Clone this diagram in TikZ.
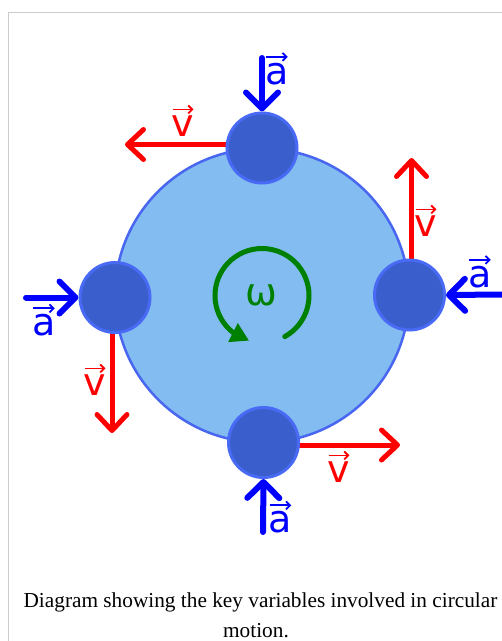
\documentclass[tikz,border=0pt]{standalone}
\usepackage{fontspec}
\setmainfont{Liberation Serif}
\newfontfamily\dvfont{DejaVu Sans}
\usetikzlibrary{arrows.meta,bending,calc}
\definecolor{bigfill}{RGB}{130,188,240}
\definecolor{bigline}{RGB}{72,102,240}
\definecolor{ballfill}{RGB}{58,95,205}
\definecolor{ballline}{RGB}{72,106,245}
\definecolor{framegray}{RGB}{204,204,204}
\definecolor{omegagreen}{RGB}{0,128,0}
\pgfdeclarelayer{bglayer}
\pgfdeclarelayer{midlayer}
\pgfsetlayers{bglayer,midlayer,main}
\begin{document}
\begin{tikzpicture}[x=1pt,y=-1pt,
  bigdisc/.style={circle,fill=bigfill,draw=bigline,line width=2.5pt,minimum size=294pt,inner sep=0},
  ball/.style={circle,fill=ballfill,draw=ballline,line width=3pt,minimum size=70pt,inner sep=0},
  vel/.style={draw=red,line width=5pt,line cap=round,-{Straight Barb[round,length=16pt,width=30pt]}},
  acc/.style={draw=blue,line width=6pt,line cap=round,-{Straight Barb[round,length=16pt,width=32pt]}},
  vlab/.style={font=\dvfont\fontsize{38}{38}\selectfont,inner sep=0},
  vecarr/.style={line width=1.8pt,-{Straight Barb[length=4pt,width=8pt]}},
  omegaarc/.style={draw=omegagreen,line width=5pt,line cap=round,-{Triangle[length=18pt,width=20pt,flex]}},
  framestyle/.style={draw=framegray,line width=1pt},
  captext/.style={font=\fontsize{21.3}{21.3}\selectfont,inner sep=0,anchor=base}
]
\useasboundingbox (0,0) rectangle (502,641);
% frame
\draw[framestyle] (8.5,641) -- (8.5,12.5) -- (502,12.5);
% big disc
\begin{pgfonlayer}{bglayer}
\node[bigdisc] (disc) at (262,295.5) {};
\end{pgfonlayer}
% omega
\coordinate (oc) at (262,295.5);
\draw[omegaarc] ($(oc)+(-61:47pt)$) arc[start angle=-61,end angle=254,radius=47pt];
\node[vlab,text=omegagreen] (om) at (261.5,295) {ω};
% balls
\node[ball] (top) at (262,148) {};
\node[ball] (right) at (409.5,295) {};
\node[ball] (left) at (115,297.5) {};
\node[ball] (bottom) at (263.5,442.5) {};
% free arrow ends
\coordinate (atopS) at (262,58);
\coordinate (arightS) at (503,294.5);
\coordinate (aleftS) at (26,297.5);
\coordinate (abotS) at (263,532);
\coordinate (vtopE) at (125,144.5);
\coordinate (vrightE) at (411.5,158);
\coordinate (vleftE) at (112,433);
\coordinate (vbotE) at (400,445);
% arrows (behind balls)
\begin{pgfonlayer}{midlayer}
\draw[vel] ([yshift=3.5pt]top.west) -- (vtopE);
\draw[vel] ([xshift=2pt]right.north) -- (vrightE);
\draw[vel] ([xshift=-3pt]left.south) -- (vleftE);
\draw[vel] ([yshift=-2.5pt]bottom.east) -- (vbotE);
\draw[acc] (atopS) -- (top.north);
\draw[acc] (arightS) -- (right.east);
\draw[acc] (aleftS) -- (left.west);
\draw[acc] (abotS) -- (bottom.south);
\end{pgfonlayer}
% labels
\node[vlab,text=blue] (la1) at (277,74) {a};
\node[vlab,text=red] (lv1) at (183,126) {v};
\node[vlab,text=red] (lv2) at (426,226) {v};
\node[vlab,text=blue] (la2) at (480,277) {a};
\node[vlab,text=blue] (la3) at (44,325.5) {a};
\node[vlab,text=red] (lv3) at (95,385) {v};
\node[vlab,text=red] (lv4) at (339,472) {v};
\node[vlab,text=blue] (la4) at (280.5,522.5) {a};
\foreach \n/\c in {la1/blue,la2/blue,la3/blue,la4/blue,lv1/red,lv2/red,lv3/red,lv4/red}{
  \draw[vecarr,draw=\c] ([xshift=1pt,yshift=6pt]\n.north west) -- ([xshift=-1pt,yshift=6pt]\n.north east);
}
% caption
\node[captext] (cap1) at (260.5,607) {Diagram showing the key variables involved in circular};
\node[captext] (cap2) at (256,637) {motion.};
\end{tikzpicture}
\end{document}
